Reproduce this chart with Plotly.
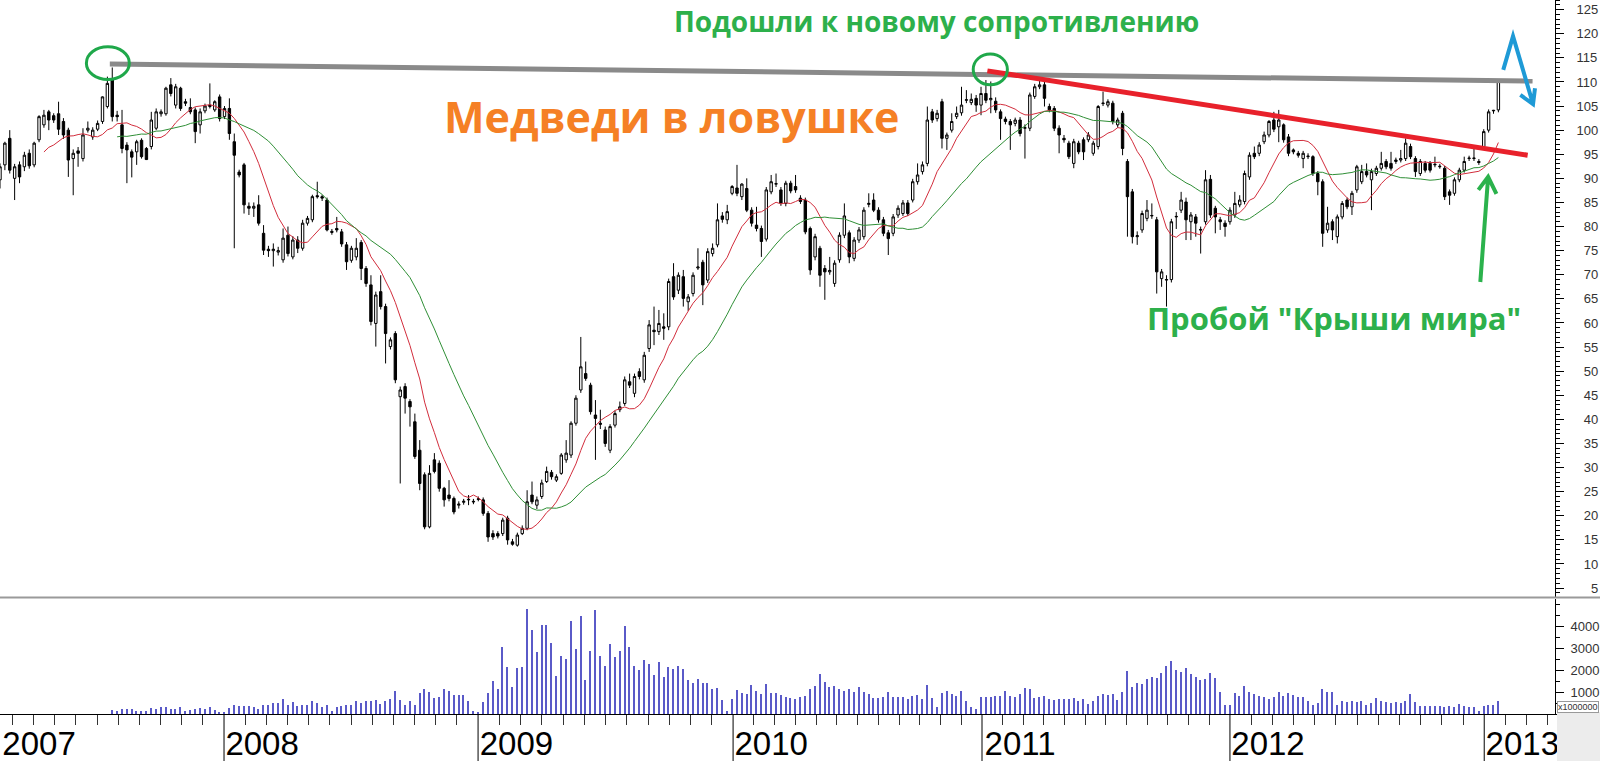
import plotly.graph_objects as go
import pandas as pd

# ---------------- data (weekly candles, index 0 = Feb 2007 ... 307 = Jan 2013) ----------------
open_ = [
    89.7, 92.8, 98.3, 90.0, 92.8, 92.4, 95.2, 92.8, 98.0, 101.1,
    103.8, 103.0, 103.4, 101.8, 100.0, 94.1, 95.7, 94.1, 100.0, 98.6,
    100.2, 101.8, 104.9, 110.4, 103.1, 101.1, 96.9, 95.5, 95.5, 97.9,
    96.2, 96.6, 100.4, 103.4, 103.4, 109.4, 105.2, 108.7, 105.9, 104.7,
    104.2, 101.1, 104.0, 104.9, 104.2, 106.9, 102.8, 104.5, 97.6, 91.3,
    92.8, 84.2, 83.8, 84.5, 78.6, 75.3, 75.0, 74.7, 73.1, 78.2,
    73.7, 77.2, 75.5, 80.7, 81.4, 86.4, 86.2, 85.5, 79.0, 79.6,
    78.9, 76.2, 73.0, 73.7, 76.7, 71.3, 67.9, 59.9, 66.5, 63.4,
    55.1, 57.8, 44.7, 46.8, 43.7, 39.5, 33.6, 28.5, 17.7, 31.6,
    30.9, 25.7, 24.3, 23.6, 22.2, 22.8, 23.3, 23.0, 23.4, 23.3,
    20.5, 16.3, 16.3, 16.3, 19.5, 14.6, 13.9, 16.3, 17.4, 24.3,
    22.2, 24.0, 27.1, 29.0, 27.4, 28.8, 31.6, 32.6, 39.2, 46.1,
    49.5, 47.1, 40.9, 39.2, 37.8, 33.6, 38.8, 42.0, 43.3, 47.8,
    45.4, 49.9, 48.2, 54.7, 58.5, 58.2, 59.2, 59.2, 69.6, 66.8,
    69.6, 64.4, 66.1, 71.4, 72.6, 68.9, 74.4, 76.2, 82.2, 81.4,
    86.9, 88.0, 86.2, 87.9, 83.4, 80.3, 79.6, 77.4, 87.2, 88.8,
    87.6, 84.8, 89.0, 88.3, 85.9, 85.5, 79.6, 73.7, 75.5, 71.3,
    70.6, 68.2, 73.1, 78.2, 78.7, 73.4, 77.2, 77.9, 84.6, 85.5,
    83.4, 81.4, 78.7, 78.6, 82.4, 82.7, 84.9, 85.5, 89.3, 91.4,
    93.1, 103.8, 102.4, 105.9, 98.3, 100.0, 102.8, 103.6, 106.2, 105.7,
    106.6, 105.2, 107.6, 106.3, 106.0, 103.8, 102.3, 101.8, 101.4, 102.1,
    100.4, 100.4, 107.0, 109.0, 109.4, 104.9, 104.5, 100.4, 98.3, 97.3,
    93.1, 97.3, 98.0, 98.0, 95.2, 96.6, 105.5, 105.2, 105.6, 101.1,
    103.5, 93.5, 87.2, 77.9, 79.3, 81.7, 82.2, 81.4, 69.2, 68.9,
    69.0, 82.0, 83.4, 85.1, 81.0, 82.0, 79.4, 81.0, 89.8, 83.8,
    81.4, 80.7, 81.0, 82.4, 84.5, 85.2, 90.3, 95.2, 95.2, 97.6,
    99.0, 102.1, 100.7, 101.1, 98.6, 95.9, 95.2, 94.1, 94.5, 94.5,
    91.0, 89.3, 79.3, 81.0, 77.9, 82.0, 85.5, 84.1, 87.6, 89.3,
    91.4, 89.7, 91.0, 92.1, 93.5, 93.1, 93.5, 93.8, 94.1, 96.6,
    94.1, 91.0, 93.1, 93.1, 92.8, 92.4, 92.1, 87.2, 86.9, 89.7,
    91.7, 94.1, 94.1, 93.5, 96.6, 100.0, 104.0, 104.2,
]
high = [
    93.1, 97.6, 100.0, 93.0, 93.5, 95.5, 96.0, 97.6, 103.1, 104.2,
    104.2, 103.5, 105.9, 102.5, 100.5, 96.0, 96.5, 100.4, 101.8, 100.6,
    102.0, 107.0, 111.1, 113.0, 104.0, 104.2, 97.5, 96.0, 98.0, 98.3,
    96.5, 103.8, 104.5, 104.3, 109.0, 110.8, 109.6, 109.0, 106.5, 106.6,
    104.7, 104.5, 105.5, 109.7, 106.2, 107.4, 105.0, 106.6, 99.3, 91.8,
    93.2, 85.0, 85.0, 86.5, 80.3, 76.0, 76.5, 75.8, 79.6, 80.0,
    78.0, 78.0, 81.4, 82.2, 86.6, 89.3, 86.6, 86.0, 79.5, 82.0,
    79.5, 76.8, 76.0, 77.6, 77.2, 71.8, 69.9, 66.5, 69.9, 64.0,
    57.0, 58.3, 46.8, 47.5, 44.2, 41.2, 35.7, 29.0, 30.5, 33.0,
    31.5, 26.0, 27.4, 24.0, 23.0, 23.5, 24.3, 23.5, 24.0, 23.8,
    21.0, 17.0, 16.8, 19.6, 20.0, 15.2, 16.5, 18.0, 25.3, 27.1,
    24.0, 27.5, 30.2, 29.5, 28.6, 33.0, 35.7, 39.6, 45.0, 57.1,
    52.0, 47.6, 44.0, 42.0, 38.5, 39.0, 41.8, 43.7, 48.9, 49.5,
    49.5, 50.6, 54.0, 60.6, 63.4, 62.7, 62.0, 69.2, 72.4, 70.5,
    71.0, 66.0, 70.5, 75.5, 73.1, 75.5, 76.5, 84.8, 83.0, 84.5,
    88.6, 92.8, 89.0, 90.0, 84.0, 84.1, 80.2, 88.2, 90.7, 91.0,
    88.2, 89.5, 89.5, 90.7, 86.5, 86.0, 80.0, 78.5, 76.0, 72.0,
    73.7, 73.0, 78.8, 84.8, 79.2, 77.8, 79.9, 84.0, 86.9, 86.9,
    84.0, 82.0, 79.3, 82.6, 84.4, 85.5, 85.5, 89.9, 93.1, 93.5,
    104.9, 104.4, 104.2, 106.5, 99.5, 103.5, 104.9, 109.0, 108.3, 107.6,
    107.3, 109.0, 110.4, 110.1, 106.8, 104.3, 102.8, 102.3, 102.6, 102.7,
    101.2, 107.8, 109.6, 110.8, 110.0, 105.5, 105.0, 101.0, 99.0, 97.8,
    98.2, 97.8, 98.5, 99.6, 97.8, 105.2, 108.0, 106.4, 106.1, 102.6,
    104.0, 94.0, 87.8, 79.0, 83.3, 85.5, 84.8, 82.0, 71.2, 69.9,
    81.6, 83.0, 87.2, 86.0, 83.0, 82.6, 80.0, 91.7, 90.7, 84.3,
    82.0, 81.3, 84.0, 87.2, 86.5, 91.6, 95.4, 96.6, 97.5, 99.7,
    102.1, 103.8, 104.2, 101.4, 99.2, 96.2, 95.7, 95.7, 95.2, 94.8,
    91.5, 89.8, 84.1, 81.5, 82.5, 85.3, 86.0, 87.4, 92.8, 92.8,
    93.1, 92.0, 92.6, 95.5, 94.0, 95.5, 94.3, 95.9, 98.3, 97.2,
    94.6, 94.0, 93.6, 93.6, 94.5, 93.0, 92.6, 87.7, 90.2, 92.2,
    94.5, 94.7, 96.2, 94.0, 100.2, 104.3, 104.2, 110.4,
]
low = [
    87.9, 91.7, 91.0, 85.5, 89.0, 91.5, 92.0, 92.3, 97.5, 100.5,
    100.0, 101.5, 99.0, 98.2, 90.3, 86.5, 92.4, 93.5, 99.5, 98.0,
    99.8, 101.3, 104.5, 101.8, 101.8, 95.2, 89.0, 90.2, 92.8, 94.1,
    93.8, 96.0, 100.0, 102.8, 103.0, 107.0, 104.5, 104.0, 105.0, 103.3,
    97.3, 99.3, 103.5, 104.5, 103.8, 101.8, 102.3, 98.0, 75.5, 90.2,
    82.7, 82.4, 82.0, 80.2, 74.1, 73.7, 71.7, 74.0, 72.5, 73.8,
    73.2, 74.5, 75.0, 80.2, 80.9, 85.8, 85.3, 79.0, 78.3, 78.8,
    75.8, 71.0, 72.5, 73.0, 68.9, 67.5, 59.5, 55.1, 62.8, 51.6,
    54.5, 47.5, 26.7, 41.2, 38.5, 31.8, 25.3, 17.2, 17.4, 28.8,
    25.0, 21.9, 23.0, 20.3, 21.5, 22.3, 22.2, 22.4, 23.0, 20.0,
    14.6, 15.0, 15.3, 15.8, 14.0, 13.8, 13.6, 16.0, 17.0, 22.4,
    21.4, 23.5, 26.8, 27.5, 27.0, 28.5, 31.0, 32.0, 38.7, 45.5,
    48.0, 41.0, 31.6, 38.0, 34.3, 33.0, 38.3, 41.5, 42.8, 46.5,
    44.6, 48.3, 47.6, 54.0, 55.4, 57.5, 56.5, 58.5, 64.8, 66.0,
    63.4, 62.5, 65.5, 71.0, 63.7, 68.3, 73.8, 75.7, 80.8, 80.5,
    86.5, 86.3, 85.5, 83.0, 80.0, 79.0, 73.7, 76.9, 86.7, 88.2,
    84.3, 84.2, 86.9, 87.0, 84.7, 78.4, 70.0, 73.0, 67.5, 64.8,
    70.0, 67.5, 72.5, 77.6, 72.4, 72.8, 76.6, 77.3, 84.0, 83.0,
    80.8, 78.0, 74.1, 78.0, 81.8, 82.2, 82.2, 85.0, 88.7, 90.8,
    92.5, 101.5, 101.8, 96.2, 95.9, 99.5, 102.3, 103.0, 105.6, 105.2,
    103.8, 103.1, 105.6, 103.5, 103.6, 98.0, 101.2, 95.9, 100.8, 98.7,
    94.1, 99.8, 106.5, 108.5, 104.9, 103.7, 99.8, 95.2, 97.4, 94.0,
    92.1, 95.0, 93.8, 97.5, 94.7, 96.0, 105.0, 104.7, 101.2, 100.5,
    94.8, 77.9, 76.5, 76.2, 78.7, 81.1, 81.6, 66.1, 67.5, 63.4,
    68.4, 79.5, 82.8, 77.2, 77.2, 77.9, 74.4, 80.4, 81.8, 78.6,
    79.3, 77.9, 80.4, 81.8, 84.0, 84.6, 89.7, 94.0, 94.6, 97.1,
    98.5, 99.6, 97.5, 97.4, 94.6, 95.0, 94.3, 92.1, 94.0, 90.5,
    86.5, 75.8, 78.7, 77.2, 76.5, 81.5, 83.6, 82.4, 87.0, 88.8,
    90.2, 83.4, 90.5, 91.6, 91.9, 91.6, 93.0, 93.3, 93.6, 94.0,
    90.3, 90.5, 91.2, 91.2, 92.3, 92.0, 85.5, 84.5, 86.4, 89.2,
    91.2, 93.6, 93.6, 92.8, 96.0, 99.5, 103.4, 103.7,
]
close = [
    92.4, 97.3, 91.7, 92.4, 90.3, 94.8, 92.6, 97.3, 102.8, 103.1,
    102.1, 102.1, 100.2, 99.0, 93.8, 95.2, 95.2, 99.0, 100.4, 100.0,
    101.4, 106.9, 109.7, 102.8, 102.8, 96.2, 95.9, 94.4, 97.6, 94.5,
    93.9, 102.1, 103.8, 103.8, 108.7, 107.6, 109.0, 104.5, 105.6, 103.8,
    99.7, 103.8, 105.0, 105.2, 105.9, 102.4, 104.5, 99.3, 94.8, 90.7,
    84.5, 83.8, 84.2, 80.7, 75.1, 75.0, 75.3, 75.0, 77.6, 74.4,
    77.2, 75.5, 80.7, 81.7, 86.2, 86.2, 85.9, 79.3, 78.8, 79.3,
    76.4, 72.7, 75.5, 75.5, 71.3, 68.2, 60.3, 65.8, 63.4, 57.8,
    56.5, 48.2, 46.1, 44.4, 42.6, 32.3, 26.7, 17.7, 28.8, 29.2,
    25.7, 23.3, 23.6, 20.8, 22.4, 23.0, 23.4, 22.9, 23.5, 20.5,
    15.6, 15.6, 15.8, 19.1, 15.0, 14.1, 16.0, 17.4, 22.9, 22.9,
    23.3, 26.8, 29.2, 28.1, 28.1, 32.6, 33.0, 39.2, 44.4, 50.9,
    48.5, 41.6, 40.2, 39.0, 35.0, 38.5, 41.2, 42.6, 48.2, 47.1,
    48.9, 48.9, 53.3, 59.6, 58.2, 59.9, 58.9, 68.6, 65.4, 69.9,
    65.1, 65.4, 69.9, 71.6, 67.9, 74.8, 75.5, 81.4, 81.5, 83.1,
    88.3, 86.9, 88.8, 83.4, 80.7, 79.6, 76.9, 87.6, 89.3, 88.9,
    84.9, 89.0, 87.4, 87.6, 85.2, 78.9, 71.0, 77.9, 69.9, 70.6,
    70.9, 72.4, 78.2, 82.2, 73.7, 77.2, 79.3, 83.4, 84.8, 83.4,
    81.4, 78.6, 77.5, 82.0, 83.8, 84.9, 82.7, 89.3, 90.7, 92.8,
    102.1, 102.1, 103.5, 98.3, 99.0, 101.8, 103.5, 105.2, 106.3, 106.4,
    105.2, 107.6, 106.2, 106.6, 104.2, 102.4, 101.8, 101.1, 102.1, 99.3,
    100.5, 107.3, 109.0, 109.4, 106.6, 104.2, 100.4, 99.0, 98.0, 94.5,
    97.6, 95.5, 95.5, 99.0, 97.3, 104.9, 105.6, 105.9, 101.8, 102.1,
    96.2, 86.2, 77.9, 78.1, 82.7, 83.4, 82.3, 70.6, 70.6, 69.0,
    81.0, 82.1, 85.5, 81.4, 82.4, 80.7, 79.3, 89.7, 82.4, 82.0,
    81.0, 80.0, 83.4, 84.8, 85.5, 91.0, 94.8, 94.5, 96.9, 99.0,
    101.8, 100.2, 102.1, 98.0, 95.2, 95.5, 94.8, 95.2, 94.6, 91.0,
    89.3, 78.6, 80.7, 79.3, 82.0, 84.8, 84.1, 86.9, 92.4, 91.4,
    90.7, 91.4, 92.1, 93.1, 92.4, 92.1, 93.8, 94.1, 97.3, 94.5,
    91.4, 93.5, 91.7, 91.7, 92.9, 92.5, 86.2, 86.5, 89.7, 91.7,
    93.5, 94.2, 94.2, 93.3, 99.7, 103.8, 104.1, 110.1,
]
# weekly volume, millions of shares (no data for the first 23 weeks)
volume = [None] * 23 + [
    189, 129, 220, 250, 250, 159, 129, 159, 280, 235,
    341, 311, 220, 250, 341, 159, 189, 220, 280, 205,
    311, 189, 98, 68, 280, 402, 371, 371, 356, 311,
    235, 402, 402, 523, 523, 674, 432, 538, 386, 417,
    432, 614, 523, 311, 432, 159, 341, 371, 402, 432,
    614, 523, 614, 614, 659, 462, 614, 689, 1068, 644,
    432, 583, 432, 962, 1129, 1023, 750, 795, 1129, 1068,
    871, 856, 856, 614, 159, 68, 538, 962, 1523, 1129,
    3068, 2129, 1220, 2098, 2159, 4795, 3826, 2811, 4038, 4068,
    3220, 1720, 2644, 2508, 4220, 2947, 4462, 1568, 2871, 4750,
    2659, 2205, 3189, 2614, 2886, 3992, 3068, 2205, 2023, 2447,
    2280, 1795, 2356, 1689, 2129, 2038, 2189, 2053, 1553, 1402,
    1598, 1432, 1432, 1144, 1174, 644, 159, 674, 1083, 947,
    932, 1326, 1053, 902, 1356, 977, 977, 886, 765, 735,
    689,
    795, 841, 1144, 1295, 1800, 1447, 1220, 1295, 1144, 1038,
    1144, 1023, 1250, 992, 917, 735, 735, 795, 992, 795,
    765, 795, 689, 841, 871, 689, 1341, 735, 341, 947,
    1038, 917, 841, 1068, 614, 341, 205, 795, 795, 795,
    820,
    841, 1068, 841, 765, 917, 1189, 1144, 735, 765, 841,
    689, 644, 689, 689, 689, 735, 583, 689, 462, 583,
    841, 917, 886, 917, 644, 992, 1950, 1250, 1400, 1371,
    1600, 1700, 1650, 1850, 2200, 2400, 2000, 1900, 2100, 1800,
    1700,
    1550, 1600, 1850, 1650, 992, 432, 432, 947, 841, 1295,
    992, 917, 841, 795, 689, 795, 992, 841, 947, 886,
    795, 765, 583, 432, 492, 1144, 992, 992, 432, 614,
    560,
    583, 538, 614, 432, 492, 735, 583, 538, 492, 538,
    492, 583, 917, 538, 386, 386, 386, 386, 386, 341,
    386, 341, 462, 386, 311, 341, 159, 386, 432, 432, 583,
]
week = list(range(len(close)))

# x-axis: week index of each New Year boundary, label positions and texts
year_bounds = [-6.1, 45.9, 97.95, 150.2, 201.2, 252.0, 304.1, 356.2]
year_label_pos = [8.0, 53.7, 105.8, 158.0, 209.0, 259.8, 311.9]
year_labels = ["2007", "2008", "2009", "2010", "2011", "2012", "2013"]
price_ticks = list(range(5, 126, 5))
volume_ticks = [1000, 2000, 3000, 4000]

# moving averages of the close (10 and 25 weeks)
ma_fast = pd.Series(close).rolling(10).mean()
ma_slow = pd.Series(close).rolling(25).mean()

X_MAX = 318.6
month_ticks = []
for a, b in zip(year_bounds[:-1], year_bounds[1:]):
    for k in range(1, 12):
        m = a + k * (b - a) / 12
        if 0 < m < X_MAX:
            month_ticks.append(m)

fig = go.Figure()
fig.add_trace(go.Candlestick(
    x=week, open=open_, high=high, low=low, close=close,
    increasing=dict(line=dict(color="black", width=1), fillcolor="white"),
    decreasing=dict(line=dict(color="black", width=1), fillcolor="black"),
    whiskerwidth=0, hoverinfo="skip", showlegend=False, xaxis="x", yaxis="y"))
fig.add_trace(go.Scatter(x=week, y=ma_fast, mode="lines", hoverinfo="skip",
                         line=dict(color="#d22d3c", width=1), showlegend=False))
fig.add_trace(go.Scatter(x=week, y=ma_slow, mode="lines", hoverinfo="skip",
                         line=dict(color="#2f8f36", width=1), showlegend=False))
fig.add_trace(go.Bar(x=week, y=volume, yaxis="y2", width=0.3, hoverinfo="skip",
                     marker=dict(color="#5a5ac8", line=dict(width=0)), showlegend=False))

PLOT_H = 714.0
def py(pix):  # pixel row -> paper y
    return (PLOT_H - pix) / PLOT_H

shapes = []
# year boundary lines below the axis
for b in year_bounds:
    if 0 < b < X_MAX:
        shapes.append(dict(type="line", xref="x", yref="paper", x0=b, x1=b, y0=0, y1=-0.07,
                           line=dict(color="black", width=1)))
# separator between price and volume panes
shapes.append(dict(type="line", xref="paper", yref="paper", x0=0, x1=1.03, y0=py(597.5), y1=py(597.5),
                   line=dict(color="#9a9a9a", width=2)))
# resistance line (grey) and falling trend line (red)
shapes.append(dict(type="line", xref="x", yref="y", x0=22.5, y0=113.7, x1=314.0, y1=110.2,
                   line=dict(color="#8a8a8a", width=5)))
shapes.append(dict(type="line", xref="x", yref="y", x0=202.3, y0=112.3, x1=313.0, y1=94.8,
                   line=dict(color="#e8212b", width=5)))
# green circles
shapes.append(dict(type="circle", xref="x", yref="y", x0=17.7, x1=26.5, y0=110.5, y1=117.3,
                   line=dict(color="#1fa84a", width=3)))
shapes.append(dict(type="circle", xref="x", yref="y", x0=199.4, x1=206.4, y0=109.4, y1=115.8,
                   line=dict(color="#1fa84a", width=3)))
# blue up/down arrow
shapes.append(dict(type="path", xref="x", yref="y",
                   path="M 308.0 112.5 L 310.0 119.5 L 314.1 105.4 M 311.5 107.3 L 314.1 105.4 L 314.5 108.7",
                   line=dict(color="#1e9ad6", width=4)))
# green arrow
shapes.append(dict(type="path", xref="x", yref="y",
                   path="M 303.3 68.5 L 304.9 90.3 M 302.9 87.6 L 304.9 90.3 L 306.6 86.8",
                   line=dict(color="#2bb24c", width=4)))
# grey filler in the bottom-right corner
shapes.append(dict(type="rect", xref="paper", yref="paper", x0=1.0013, x1=1.04, y0=py(712), y1=-0.08,
                   fillcolor="#ececec", line=dict(width=0), layer="above"))

annotations = [
    dict(text="Подошли к новому сопротивлению", xref="paper", yref="paper", x=936 / 1555, y=py(21),
         xanchor="center", yanchor="middle", showarrow=False,
         font=dict(family="Open Sans", size=28, color="#2db04b", weight="bold")),
    dict(text="Медведи в ловушке", xref="paper", yref="paper", x=671 / 1555, y=py(117),
         xanchor="center", yanchor="middle", showarrow=False,
         font=dict(family="Open Sans", size=43, color="#f58025", weight="bold")),
    dict(text="Пробой \"Крыши мира\"", xref="paper", yref="paper", x=1334 / 1555, y=py(318),
         xanchor="center", yanchor="middle", showarrow=False,
         font=dict(family="Open Sans", size=31, color="#2db04b", weight="bold")),
    dict(text="x1000000", xref="paper", yref="paper", x=1557 / 1555, y=py(707),
         xanchor="left", yanchor="middle", showarrow=False,
         font=dict(family="Liberation Sans Narrow, Liberation Sans", size=9, color="#333"),
         bordercolor="#999", borderwidth=1, borderpad=0, bgcolor="white"),
]

FS = "\u2007"
price_text = [FS * (3 - len(str(v))) + str(v) for v in price_ticks]
axis_font = dict(family="Liberation Sans Narrow, Liberation Sans, Arial", size=13, color="#333")

fig.update_layout(
    width=1600, height=761,
    margin=dict(l=0, r=45, t=0, b=47, autoexpand=False),
    paper_bgcolor="white", plot_bgcolor="white",
    showlegend=False, bargap=0,
    shapes=shapes, annotations=annotations,
    xaxis=dict(range=[0, X_MAX], anchor="y2", showgrid=False, zeroline=False, automargin=False,
               showline=True, linecolor="black", linewidth=1,
               tickmode="array", tickvals=year_label_pos, ticktext=year_labels,
               ticks="", ticklabelstandoff=0, ticklabeloverflow="allow",
               tickfont=dict(family="Liberation Sans Narrow, Liberation Sans, Arial", size=33, color="black"),
               minor=dict(tickmode="array", tickvals=month_ticks, ticks="outside", ticklen=10,
                          tickcolor="#333", tickwidth=1),
               rangeslider=dict(visible=False)),
    yaxis=dict(domain=[py(597), 1], range=[3.15, 127.0], side="right", anchor="x", automargin=False,
               showgrid=False, zeroline=False, showline=True, linecolor="black", linewidth=1,
               tickmode="array", tickvals=price_ticks, ticktext=price_text,
               ticks="outside", ticklen=8, tickcolor="black", ticklabelstandoff=10,
               tickfont=axis_font,
               minor=dict(dtick=1, ticks="outside", ticklen=4, tickcolor="black")),
    yaxis2=dict(domain=[0, py(599)], range=[0, 5230], side="right", anchor="x", automargin=False,
                showgrid=False, zeroline=False, showline=True, linecolor="black", linewidth=1,
                tickmode="array", tickvals=volume_ticks, ticktext=[str(v) for v in volume_ticks],
                ticks="outside", ticklen=8, tickcolor="black", ticklabelstandoff=4,
                tickfont=axis_font,
                minor=dict(dtick=500, ticks="outside", ticklen=4, tickcolor="black")),
)

fig.write_html("out.html", config={"displayModeBar": False},
               post_script="document.body.style.margin='0';document.body.style.overflow='hidden';")
